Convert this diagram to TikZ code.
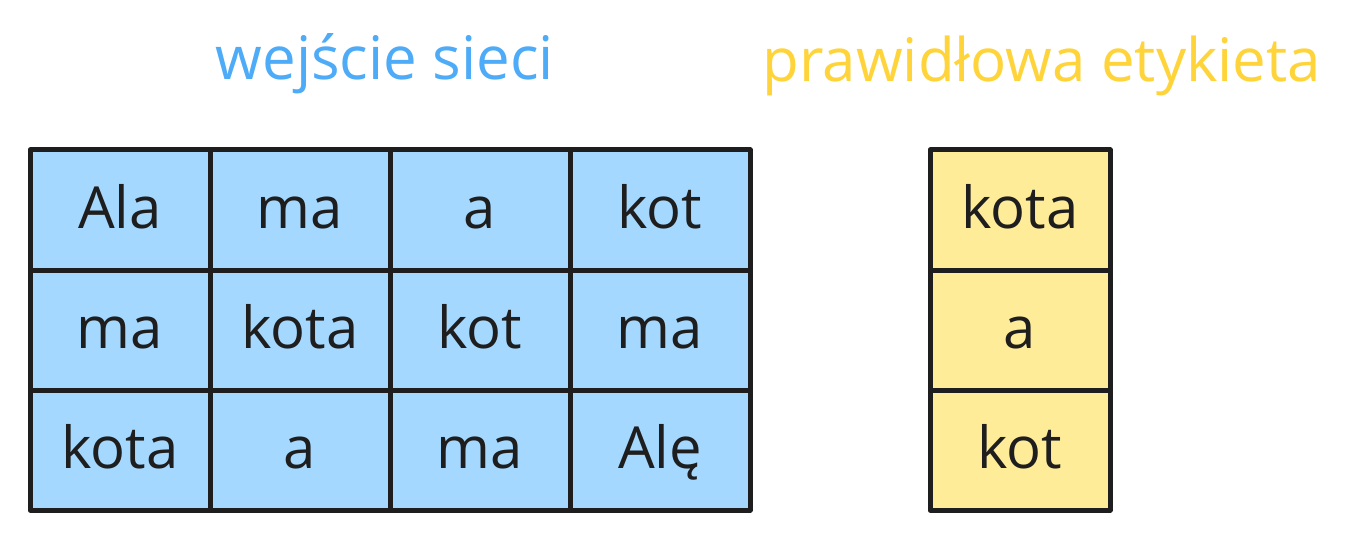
\documentclass[tikz,border=0pt]{standalone}
\usepackage{fontspec}
\setmainfont{Open Sans}
\usepackage{xcolor}
\usepackage{tikz}
\usetikzlibrary{positioning}

\definecolor{ink}{HTML}{1E1E1E}
\definecolor{inputfill}{HTML}{A5D8FF}
\definecolor{inputtext}{HTML}{4DABF7}
\definecolor{labelfill}{HTML}{FFEC99}
\definecolor{labeltext}{HTML}{FFD43B}

\begin{document}
\begin{tikzpicture}[
    x=1pt, y=-1pt,
    cell/.style={rectangle, draw=ink, line width=5pt, line join=round, outer sep=0pt, minimum width=180pt, minimum height=120pt, inner sep=0pt, text height=40pt, text depth=4pt, text centered, font=\fontsize{58}{60}\selectfont, text=ink},
    inputcell/.style={cell, fill=inputfill},
    labelcell/.style={cell, fill=labelfill},
    title/.style={anchor=base, font=\fontsize{60}{64}\selectfont}
]
    \useasboundingbox (0,0) rectangle (1364,540);

    % Titles
    \node[title, text=inputtext] (inputtitle) at (385,80) {wejście sieci};
    \node[title, text=labeltext] (labeltitle) at (1042,82) {prawidłowa etykieta};

    % Input grid
    \foreach \w [count=\i] in {Ala,ma,a,kot}
        \node[inputcell] (in-1-\i) at (180*\i-60,210) {\w};
    \foreach \w [count=\i] in {ma,kota,kot,ma}
        \node[inputcell] (in-2-\i) at (180*\i-60,330) {\w};
    \foreach \w [count=\i] in {kota,a,ma,Alę}
        \node[inputcell] (in-3-\i) at (180*\i-60,450) {\w};

    % Correct labels
    \node[labelcell] (lab-1) at (1020,210) {kota};
    \node[labelcell, below=0pt of lab-1] (lab-2) {a};
    \node[labelcell, below=0pt of lab-2] (lab-3) {kot};
\end{tikzpicture}
\end{document}
